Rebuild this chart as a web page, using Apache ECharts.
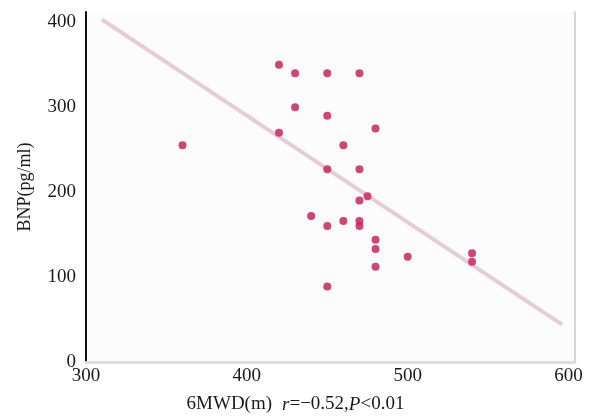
<!DOCTYPE html>
<html>
<head>
<meta charset="utf-8">
<script src="https://cdn.jsdelivr.net/npm/echarts@6/dist/echarts.min.js"></script>
<style>html,body{margin:0;padding:0;background:#fff;}#c{width:592px;height:418px;}</style>
</head>
<body>
<div id="c"></div>
<script>
// 6MWD (m) values of each patient
var walkDistance = [360, 420, 430, 450, 470, 430, 450, 420, 480, 460, 450, 470, 470, 475, 440, 450, 460, 470, 470, 480, 480, 480, 500, 540, 540, 450];
// BNP (pg/ml) values of each patient
var bnpValues    = [255, 350, 340, 340, 340, 300, 290, 270, 275, 255, 227, 227, 190, 195, 172, 160, 166, 166, 160, 144, 133, 112, 124, 128, 118, 89];
// fitted regression line endpoints
var fitX = [310, 596];
var fitY = [403, 44];
var xTicks = [300, 400, 500, 600];
var yTicks = [0, 100, 200, 300, 400];

var points = walkDistance.map(function (x, i) { return [x, bnpValues[i]]; });
var fitLine = fitX.map(function (x, i) { return [x, fitY[i]]; });

var serif = '"Liberation Serif", "DejaVu Serif", serif';
var chart = echarts.init(document.getElementById('c'));
chart.setOption({
  backgroundColor: '#ffffff',
  animation: false,
  grid: { left: 86, right: 17, top: 12, bottom: 56, show: true, backgroundColor: '#fcfcfc', borderWidth: 0,
          containLabel: false, outerBoundsMode: 'none' },
  xAxis: {
    type: 'value', min: 300, max: 604, interval: 100,
    axisLine: { show: true, lineStyle: { color: '#dcdcdc', width: 3 } },
    axisTick: { show: false },
    splitLine: { show: false },
    axisLabel: {
      color: '#1a1a1a', fontFamily: serif, fontSize: 19, margin: 5,
      formatter: function (v) { return xTicks.indexOf(v) >= 0 ? String(v) : ''; }
    },
    name: '{a|6MWD(m)}   {i|r}{a|=\u22120.52,}{i|P}{a|<0.01}',
    nameLocation: 'middle', nameGap: 33,
    nameTextStyle: {
      padding: [0, 70, 0, 0],
      rich: {
        a: { fontFamily: serif, fontSize: 19, color: '#1a1a1a' },
        i: { fontFamily: serif, fontSize: 19, color: '#1a1a1a', fontStyle: 'italic' }
      }
    }
  },
  yAxis: [{
    type: 'value', min: 0, max: 412, interval: 100,
    axisLine: { show: true, lineStyle: { color: '#111', width: 2 } },
    axisTick: { show: false },
    splitLine: { show: false },
    axisLabel: {
      color: '#1a1a1a', fontFamily: serif, fontSize: 19, margin: 10,
      formatter: function (v) { return yTicks.indexOf(v) >= 0 ? String(v) : ''; }
    },
    name: 'BNP(pg/ml)', nameLocation: 'middle', nameGap: 52, nameRotate: 90,
    nameTextStyle: { fontFamily: serif, fontSize: 18, color: '#1a1a1a' }
  }, {
    type: 'value', min: 0, max: 412, position: 'right',
    axisLine: { show: true, lineStyle: { color: '#d6d6d6', width: 2 } },
    axisTick: { show: false }, axisLabel: { show: false }, splitLine: { show: false }
  }],
  series: [{
    type: 'line', data: fitLine, symbol: 'none',
    lineStyle: { color: '#e6ccd4', width: 4 }, z: 1
  }, {
    type: 'scatter', data: points, symbolSize: 8,
    itemStyle: { color: '#c9255e', opacity: 0.85 }, z: 2
  }]
});
</script>
</body>
</html>
